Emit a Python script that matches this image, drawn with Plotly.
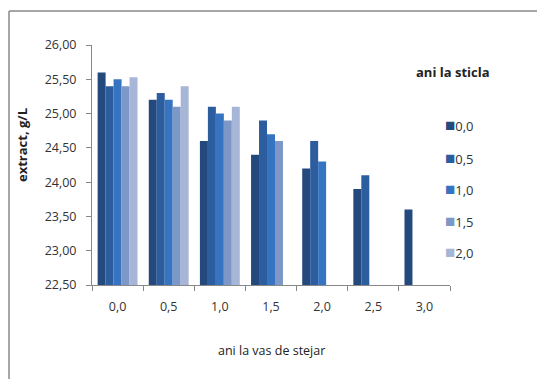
import plotly.graph_objects as go

categories = ["0,0", "0,5", "1,0", "1,5", "2,0", "2,5", "3,0"]
series_names = ["0,0", "0,5", "1,0", "1,5", "2,0"]
s00 = [25.60, 25.20, 24.60, 24.40, 24.20, 23.90, 23.60]
s05 = [25.40, 25.30, 25.10, 24.90, 24.60, 24.10, None]
s10 = [25.50, 25.20, 25.00, 24.70, 24.30, None, None]
s15 = [25.40, 25.10, 24.90, 24.60, None, None, None]
s20 = [25.53, 25.40, 25.10, None, None, None, None]
series_values = [s00, s05, s10, s15, s20]
colors = ["#24497d", "#2b5d9f", "#3674c2", "#7d97c6", "#a7b6d6"]

fig = go.Figure()
for i, (name, vals) in enumerate(zip(series_names, series_values)):
    fig.add_trace(go.Bar(
        x=categories, y=vals,
        name=name, marker=dict(color=colors[i], line=dict(width=0)),
        showlegend=False,
    ))

W, H = 537, 379
L, R, T, B = 92, 87, 45, 94
PW, PH = W - L - R, H - T - B
fig.update_layout(
    width=W, height=H,
    margin=dict(l=L, r=R, t=T, b=B, autoexpand=False),
    paper_bgcolor="white", plot_bgcolor="white",
    separators=",.",
    barmode="group", bargap=0.22, bargroupgap=0,
    font=dict(family="Open Sans", size=12, color="#222"),
    xaxis=dict(type="category", showline=True, linecolor="#888", linewidth=1,
               ticks="outside", tickson="boundaries", ticklen=5, tickcolor="#888",
               ticklabelstandoff=10,
               tickfont=dict(size=12.5, color="#333"), showgrid=False),
    yaxis=dict(range=[22.5, 26.0], dtick=0.5, tickformat=".2f",
               showline=True, linecolor="#888", linewidth=1,
               ticks="outside", ticklen=5, tickcolor="#888",
               ticklabelstandoff=7,
               tickfont=dict(size=12.5, color="#333"), showgrid=False, zeroline=False),
)

def px_x(x):
    return (x - L) / PW

def px_y(y):
    return 1 - (y - T) / PH

# legend (title + entries)
fig.add_annotation(text="<b>ani la sticla</b>", xref="paper", yref="paper",
                   x=px_x(414), y=px_y(72), xanchor="left", yanchor="middle",
                   showarrow=False, font=dict(size=13, color="#222"))
legend_y = [125, 157, 188, 220, 251]
for i, name in enumerate(series_names):
    fig.add_annotation(
        text=f"<span style='color:{colors[i]};font-size:17px'>■</span>{name}",
        xref="paper", yref="paper", x=px_x(443), y=px_y(legend_y[i]),
        xanchor="left", yanchor="middle", showarrow=False,
        font=dict(size=13, color="#333"))

fig.add_annotation(text="<b>extract, g/L</b>", xref="paper", yref="paper",
                   x=px_x(22), y=px_y(145), xanchor="center", yanchor="middle",
                   textangle=-90, showarrow=False, font=dict(size=13, color="#222"))
fig.add_annotation(text="ani la vas de stejar", xref="paper", yref="paper",
                   x=0.5, y=px_y(350), xanchor="center", yanchor="middle",
                   showarrow=False, font=dict(size=12.5, color="#222"))

# outer frame (top and left edges visible)
fig.add_shape(type="line", xref="paper", yref="paper",
              x0=px_x(9), x1=px_x(W), y0=px_y(11), y1=px_y(11),
              line=dict(color="#888", width=1.5))
fig.add_shape(type="line", xref="paper", yref="paper",
              x0=px_x(9), x1=px_x(9), y0=px_y(11), y1=px_y(H),
              line=dict(color="#888", width=1.5))

fig.write_html("out.html", config={"displayModeBar": False},
               post_script="document.body.style.margin='0';")
